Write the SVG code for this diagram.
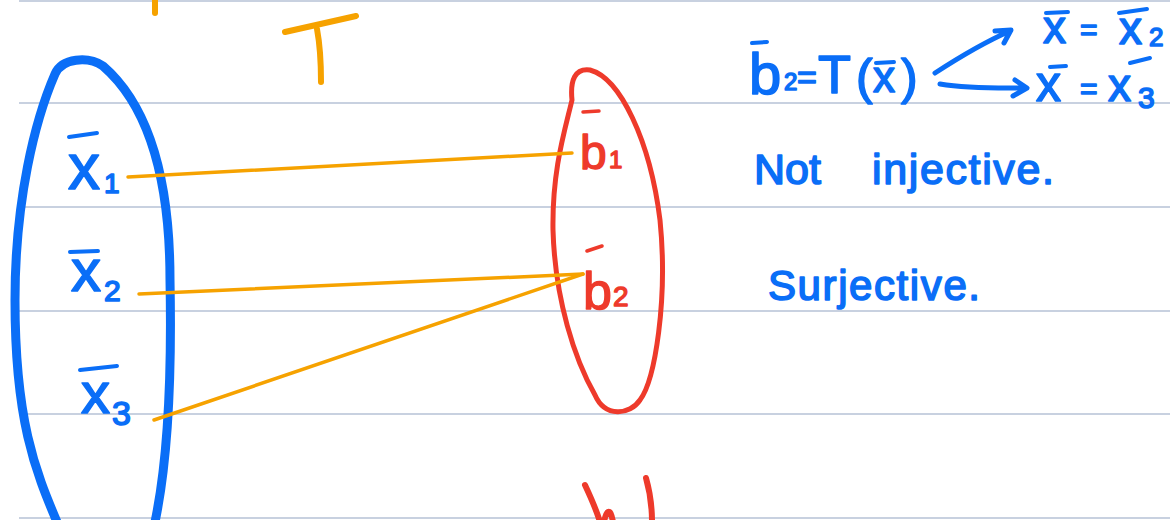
<svg xmlns="http://www.w3.org/2000/svg" width="1170" height="520" viewBox="0 0 1170 520">
<style>
.rule{stroke:#b6c2d6;stroke-width:1.5}
.blue{fill:none;stroke:#0a6ef7;stroke-linecap:round;stroke-linejoin:round}
.red{fill:none;stroke:#ee3a2b;stroke-linecap:round;stroke-linejoin:round}
.org{fill:none;stroke:#f6a200;stroke-linecap:round;stroke-linejoin:round}
.tb{fill:#0a6ef7;stroke:#0a6ef7;stroke-width:1.6;stroke-linejoin:round;font-family:"Liberation Sans",Arial,sans-serif}
.tr{fill:#ee3a2b;stroke:#ee3a2b;stroke-width:1.4;stroke-linejoin:round;font-family:"Liberation Sans",Arial,sans-serif}
.bar{stroke-width:4}
</style>
<rect width="1170" height="520" fill="#ffffff"/>
<g id="rules">
<line class="rule" x1="19" y1="1" x2="1170" y2="1"/>
<line class="rule" x1="19" y1="103" x2="1170" y2="103"/>
<line class="rule" x1="19" y1="207" x2="1170" y2="207"/>
<line class="rule" x1="19" y1="311" x2="1170" y2="311"/>
<line class="rule" x1="19" y1="414" x2="1170" y2="414"/>
<line class="rule" x1="19" y1="518" x2="1170" y2="518"/>
</g>
<g id="stray-marks">
<line class="org" x1="155" y1="0" x2="155" y2="13" stroke-width="6"/>
<path class="red" d="M585,485 C592,500 597,512 600,522 M604,522 C606,512 610,505 613,522 M646,478 C650,492 652,506 652,522" stroke-width="6"/>
</g>
<g id="domain">
<path class="blue" stroke-width="9" d="M57,522 C35,470 15,420 15,300 C15,200 35,120 55,74 C62,58 88,56 103,66 C140,98 170,160 170,280 C172,380 168,460 155,522"/>
<g id="x1">
<line class="blue bar" x1="69" y1="137" x2="97" y2="133"/>
<text class="tb" x="68" y="189" font-size="64">x</text>
<text class="tb" x="104" y="193" font-size="28">1</text>
</g>
<g id="x2">
<line class="blue bar" x1="70" y1="252" x2="98" y2="251"/>
<text class="tb" x="71" y="291" font-size="60">x</text>
<text class="tb" x="104" y="301" font-size="30">2</text>
</g>
<g id="x3">
<line class="blue bar" x1="80" y1="370" x2="117" y2="366"/>
<text class="tb" x="81" y="413" font-size="58">x</text>
<text class="tb" x="112" y="425" font-size="34">3</text>
</g>
</g>
<g id="codomain">
<path class="red" stroke-width="5" d="M572,100 C570,80 575,68 590,70 C620,78 650,140 660,220 C668,300 655,380 640,400 C630,415 605,418 595,395 C575,360 555,300 553,230 C552,170 565,130 572,100 Z"/>
<g id="b1">
<line class="red" stroke-width="3.5" x1="583" y1="112" x2="599" y2="111"/>
<text class="tr" x="580" y="169" font-size="48">b</text>
<text class="tr" x="609" y="168" font-size="24">1</text>
</g>
<g id="b2">
<line class="red" stroke-width="3.5" x1="587" y1="251" x2="602" y2="246"/>
<text class="tr" x="583" y="309" font-size="52">b</text>
<text class="tr" x="613" y="306" font-size="28">2</text>
</g>
</g>
<g id="label-T">
<path class="org" stroke-width="6" d="M285,32 L356,16 M317,29 C320,45 321,65 321,82"/>
</g>
<g id="connectors">
<line class="org" stroke-width="3.5" x1="128" y1="177" x2="572" y2="153"/>
<line class="org" stroke-width="3.5" x1="139" y1="294" x2="583" y2="274"/>
<line class="org" stroke-width="3.5" x1="154" y1="420" x2="583" y2="274"/>
</g>
<g id="notes">
<line class="blue bar" x1="752" y1="43" x2="767" y2="42"/>
<text class="tb" x="749" y="94" font-size="58">b</text>
<text class="tb" x="784" y="90" font-size="24">2</text>
<text class="tb" x="797" y="89" font-size="34">=</text>
<text class="tb" x="818" y="93" font-size="54">T</text>
<text class="tb" x="856" y="94" font-size="50">(</text>
<line class="blue bar" x1="876" y1="63" x2="894" y2="62"/>
<text class="tb" x="873" y="92" font-size="44">x</text>
<text class="tb" x="901" y="94" font-size="50">)</text>
<path class="blue" stroke-width="5" d="M935,73 C955,60 985,42 1010,31 M995,31 L1011,30 L1004,43"/>
<path class="blue" stroke-width="5" d="M940,84 C970,89 1000,88 1026,88 M1015,80 L1027,88 L1013,96"/>
<line class="blue bar" x1="1046" y1="13" x2="1068" y2="12"/>
<text class="tb" x="1043" y="43" font-size="46">x</text>
<text class="tb" x="1080" y="40" font-size="30">=</text>
<line class="blue bar" x1="1119" y1="13" x2="1147" y2="9"/>
<text class="tb" x="1119" y="44" font-size="46">x</text>
<text class="tb" x="1149" y="46" font-size="26">2</text>
<line class="blue bar" x1="1050" y1="67" x2="1066" y2="66"/>
<text class="tb" x="1036" y="101" font-size="50">x</text>
<text class="tb" x="1080" y="99" font-size="30">=</text>
<line class="blue bar" x1="1130" y1="63" x2="1150" y2="58"/>
<text class="tb" x="1108" y="101" font-size="46">x</text>
<text class="tb" x="1138" y="108" font-size="30">3</text>
<text class="tb" font-size="43"><tspan x="754" y="184">Not </tspan><tspan x="872" y="184" textLength="182" lengthAdjust="spacing">injective.</tspan></text>
<text class="tb" x="768" y="300" font-size="42" textLength="212" lengthAdjust="spacing">Surjective.</text>
</g>
</svg>
